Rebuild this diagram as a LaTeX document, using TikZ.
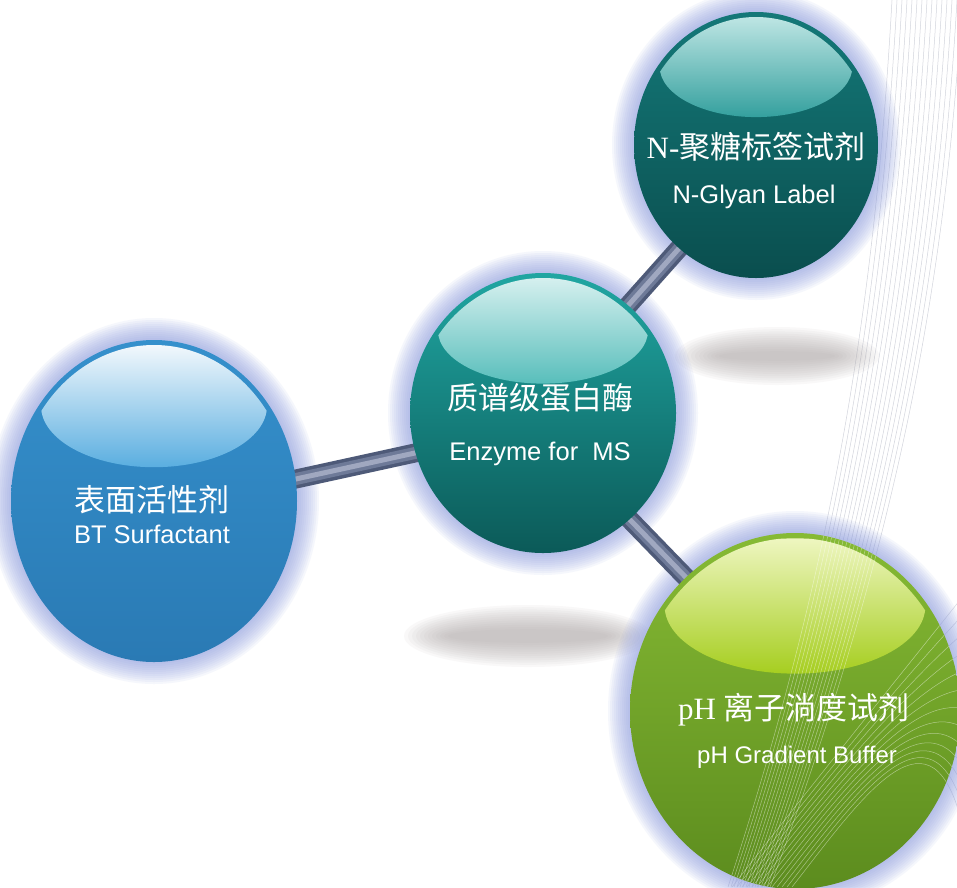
\documentclass[tikz,border=0pt]{standalone}
\usepackage{fontspec}
\setmainfont{Liberation Serif}
\newfontfamily\cjk{Noto Sans CJK SC}
\newfontfamily\arialf{Liberation Sans}
\usetikzlibrary{calc}

\definecolor{blueT}{HTML}{3590CC}
\definecolor{blueM}{HTML}{2E86C1}
\definecolor{blueB}{HTML}{2A7AB4}
\definecolor{blueHT}{HTML}{F2F8FC}
\definecolor{blueHB}{HTML}{5AAEE0}
\definecolor{tealT}{HTML}{20A6A2}
\definecolor{tealM}{HTML}{179491}
\definecolor{tealB}{HTML}{0B5A58}
\definecolor{tealHT}{HTML}{D6F0EF}
\definecolor{tealHB}{HTML}{58BEBB}
\definecolor{dkT}{HTML}{147878}
\definecolor{dkM}{HTML}{0F6A6A}
\definecolor{dkB}{HTML}{0A4E4E}
\definecolor{dkHT}{HTML}{BFE6E4}
\definecolor{dkHB}{HTML}{34A09E}
\definecolor{grT}{HTML}{86BA34}
\definecolor{grM}{HTML}{78AA2C}
\definecolor{grB}{HTML}{5C8C1E}
\definecolor{grHT}{HTML}{EEF6C0}
\definecolor{grHB}{HTML}{A6CE20}
\definecolor{halocol}{HTML}{8C9CE0}
\definecolor{shadowcol}{HTML}{ABA4A4}
\definecolor{rodD}{HTML}{4E5A78}
\definecolor{rodM}{HTML}{6E7A98}
\definecolor{rodL}{HTML}{A0A8C0}
\definecolor{bglinecol}{HTML}{D2D4DC}

\newcommand\myball[5]{%
  \shade[top color=#5T, middle color=#5M, bottom color=#5B] (#1,#2) ellipse ({#3} and {#4});
  \begin{scope}
    \clip (#1,#2) ellipse ({#3-5} and {#4-5});
    \shade[top color=#5HT, bottom color=#5HB] (#1,{#2-0.59*#4}) ellipse ({0.79*#3} and {0.38*#4});
  \end{scope}}
\newcommand\myhalo[4]{%
  \foreach \k in {1,...,11}{\fill[halocol, opacity=0.08] (#1,#2) ellipse ({#3+2*\k} and {#4+2*\k});}}
\newcommand\myshadow[4]{%
  \foreach \k in {0,...,11}{\fill[shadowcol, opacity=0.07] (#1,#2) ellipse ({#3+24-4*\k} and {#4+12-2.2*\k});}}
\newcommand\fanlines{%
  \foreach \i in {0,...,14}{\draw ({728+3*\i},887) .. controls ({835+4*\i},560) and ({875+5*\i},300) .. ({892+5*\i},0);}
  \foreach \i in {0,...,12}{\draw ({732+5*\i},887) .. controls ({800+5*\i},800) and ({880+4*\i},700) .. (960,{600+18*\i});}}

\begin{document}
\begin{tikzpicture}[x=1pt,y=-1pt,
  rodA/.style={rodD, line width=19pt},
  rodB/.style={rodM, line width=12pt},
  rodC/.style={rodL, line width=5pt},
  cn/.style={text=white, inner sep=0pt, font=\fontsize{31}{34}\selectfont},
  en/.style={text=white, inner sep=0pt, anchor=base, font=\arialf\fontsize{25.5}{30}\selectfont}]
\useasboundingbox (0,0) rectangle (957,887);
\clip (0,0) rectangle (957,887);
\fill[white] (0,0) rectangle (957,887);

% centres
\coordinate (cL) at (154,501);
\coordinate (cC) at (543,413);
\coordinate (cT) at (756,145);
\coordinate (cG) at (795,711);
% rod ends
\coordinate (rL) at (154,510);
\coordinate (rC1) at (543,425);
\coordinate (rC2) at (543,401);
\coordinate (rT) at (756,162);
\coordinate (rC3) at (543,430);
\coordinate (rG) at (795,690);

% background line pattern
\begin{scope}[bglinecol, line width=0.5pt]
  \fanlines
\end{scope}

% shadows
\myshadow{777}{356}{78}{17}
\myshadow{528}{636}{100}{19}

% halos
\myhalo{154}{501}{143}{161}
\myhalo{543}{413}{133}{140}
\myhalo{756}{145}{122}{133}
\myhalo{795}{711}{165}{178}

% rods
\foreach \a/\b in {rL/rC1, rC2/rT, rC3/rG}{
  \draw[rodA] (\a) -- (\b);
  \draw[rodB] (\a) -- (\b);
  \draw[rodC] (\a) -- (\b);
}

% spheres
\myball{154}{501}{143}{161}{blue}
\myball{543}{413}{133}{140}{teal}
\myball{756}{145}{122}{133}{dk}
\myball{795}{711}{165}{178}{gr}

% white lines over the green sphere
\begin{scope}
  \clip (cG) ellipse (165 and 178);
  \begin{scope}[white, opacity=0.45, line width=0.5pt]
    \fanlines
  \end{scope}
\end{scope}

% texts
\node[cn] (tL) at (152,500) {\cjk 表面活性剂};
\node[en] (eL) at (152,543) {BT Surfactant};
\node[cn] (tC) at (540,398) {\cjk 质谱级蛋白酶};
\node[en] (eC) at (540,460) {Enzyme for\ \ MS};
\node[cn] (tT) at (756,147) {N-{\cjk 聚糖标签试剂}};
\node[en] (eT) at (754,203) {N-Glyan Label};
\node[cn] (tG) at (794,710) {pH {\cjk 离子淌度试剂}};
\node[en, font=\arialf\fontsize{24}{28}\selectfont] (eG) at (797,763) {pH Gradient Buffer};
\end{tikzpicture}
\end{document}
